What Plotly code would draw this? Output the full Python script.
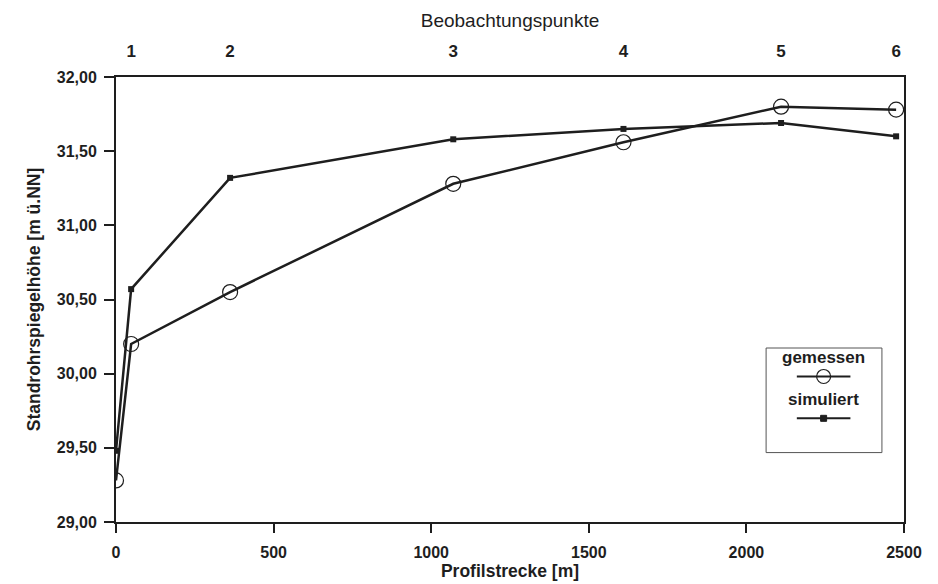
import plotly.graph_objects as go

# Data
profil_x = [0, 48, 362, 1070, 1610, 2110, 2475]
gemessen = [29.28, 30.20, 30.55, 31.28, 31.56, 31.80, 31.78]
simuliert = [29.48, 30.57, 31.32, 31.58, 31.65, 31.69, 31.60]
punkt_x = [48, 362, 1070, 1610, 2110, 2475]
punkt_labels = ["1", "2", "3", "4", "5", "6"]
y_ticks = [29.0, 29.5, 30.0, 30.5, 31.0, 31.5, 32.0]
x_ticks = [0, 500, 1000, 1500, 2000, 2500]

ink = "#1e1e1e"
fam = "Liberation Sans, Arial, sans-serif"

fig = go.Figure()
fig.add_trace(go.Scatter(
    x=profil_x, y=simuliert, mode="lines+markers", name="simuliert",
    line=dict(color=ink, width=2.5),
    marker=dict(symbol="square", size=6, color=ink),
    showlegend=False))
fig.add_trace(go.Scatter(
    x=profil_x, y=gemessen, mode="lines+markers", name="gemessen",
    line=dict(color=ink, width=2.5),
    marker=dict(symbol="circle-open", size=15, color=ink, line=dict(width=1.2)),
    showlegend=False))
fig.add_trace(go.Scatter(x=[profil_x[0]], y=[gemessen[0]], xaxis="x2",
                         mode="markers", marker=dict(opacity=0), showlegend=False,
                         hoverinfo="skip"))

fig.update_layout(
    width=938, height=584,
    margin=dict(l=108, r=42, t=65, b=70),
    paper_bgcolor="white", plot_bgcolor="white",
    separators=",.",
    font=dict(family=fam, size=16, color=ink),
    xaxis=dict(range=[0, 2500], tickvals=x_ticks, showgrid=False, zeroline=False,
               showline=True, linecolor=ink, linewidth=2, mirror=True,
               ticks="outside", ticklen=9, tickwidth=2, tickcolor=ink,
               ticklabelstandoff=6,
               title=dict(text="Profilstrecke [m]", standoff=2,
                          font=dict(size=17.5, weight="bold")),
               tickfont=dict(size=16, weight="bold")),
    xaxis2=dict(range=[0, 2500], overlaying="x", side="top", tickvals=punkt_x,
                ticktext=punkt_labels, showgrid=False, zeroline=False,
                showline=False, ticks="", ticklabelstandoff=16,
                title=dict(text="Beobachtungspunkte", standoff=8,
                           font=dict(size=19)),
                tickfont=dict(size=17, weight="bold")),
    yaxis=dict(range=[29, 32], tickvals=y_ticks, tickformat=".2f",
               showgrid=False, zeroline=False,
               showline=True, linecolor=ink, linewidth=2, mirror=True,
               ticks="outside", ticklen=10, tickwidth=2, tickcolor=ink,
               ticklabelstandoff=4,
               title=dict(text="Standrohrspiegelhöhe [m ü.NN]", standoff=12,
                          font=dict(size=17.5, weight="bold")),
               tickfont=dict(size=16, weight="bold")),
)

# custom legend box
lx0, lx1, ly0, ly1 = 0.825, 0.972, 0.156, 0.391
fig.add_shape(type="rect", xref="paper", yref="paper", x0=lx0, x1=lx1, y0=ly0, y1=ly1,
              line=dict(color="#555", width=1), fillcolor="white")
cx = 0.898
for txt, ty, sy, sym in [("gemessen", 0.369, 0.327, "circle"), ("simuliert", 0.276, 0.233, "square")]:
    fig.add_annotation(x=cx, y=ty, xref="paper", yref="paper", text=txt, showarrow=False,
                       xanchor="center", yanchor="middle",
                       font=dict(size=17, weight="bold", color=ink))
    fig.add_shape(type="line", xref="paper", yref="paper", x0=cx - 0.034, x1=cx + 0.034,
                  y0=sy, y1=sy, line=dict(color=ink, width=2))
    if sym == "circle":
        fig.add_shape(type="circle", xref="paper", yref="paper", xsizemode="pixel",
                      ysizemode="pixel", xanchor=cx, yanchor=sy, x0=-7, x1=7, y0=-7, y1=7,
                      line=dict(color=ink, width=1.2), fillcolor="rgba(0,0,0,0)")
    else:
        fig.add_shape(type="rect", xref="paper", yref="paper", xsizemode="pixel",
                      ysizemode="pixel", xanchor=cx, yanchor=sy, x0=-3, x1=3, y0=-3, y1=3,
                      line=dict(color=ink, width=1), fillcolor=ink)

fig.write_html("out.html")
